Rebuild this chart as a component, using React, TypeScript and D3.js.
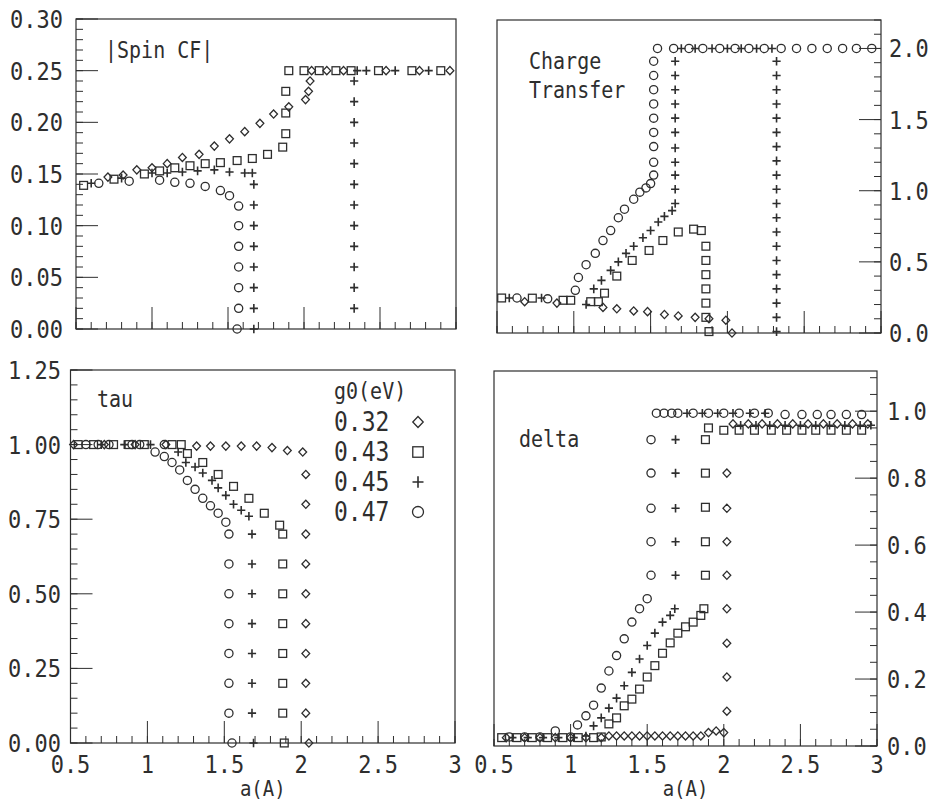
import React from 'react';
import * as d3 from 'd3';

type Pt = [number, number];

// x axis shared by all four panels
const xTickLabels = ['0.5', '1', '1.5', '2', '2.5', '3'];

// ---- |Spin CF| (top left)
const spinYTicks = ['0.00', '0.05', '0.10', '0.15', '0.20', '0.25', '0.30'];
const spin032: Pt[] = [
  [0.71, 0.147], [0.81, 0.149], [0.90, 0.154], [1.00, 0.156], [1.10, 0.160], [1.20, 0.166],
  [1.31, 0.169], [1.41, 0.177], [1.51, 0.184], [1.61, 0.191], [1.71, 0.199], [1.80, 0.208],
  [1.90, 0.215], [2.01, 0.222], [2.03, 0.230], [2.04, 0.240], [2.05, 0.25], [2.15, 0.25],
  [2.26, 0.25], [2.54, 0.25], [2.76, 0.25], [2.96, 0.25],
];
const spin043: Pt[] = [
  [0.55, 0.139], [0.75, 0.145], [0.95, 0.150], [1.05, 0.153], [1.15, 0.156], [1.25, 0.158],
  [1.35, 0.160], [1.45, 0.161], [1.56, 0.163], [1.66, 0.165], [1.76, 0.169], [1.86, 0.176],
  [1.88, 0.189], [1.88, 0.209], [1.88, 0.230], [1.90, 0.25], [2.00, 0.25], [2.10, 0.25],
  [2.21, 0.25], [2.31, 0.25], [2.49, 0.25], [2.71, 0.25], [2.90, 0.25],
];
const spin045: Pt[] = [
  [0.60, 0.141], [0.80, 0.146], [1.00, 0.151], [1.10, 0.151], [1.20, 0.152], [1.30, 0.153],
  [1.41, 0.154], [1.51, 0.152], [1.61, 0.151], [1.66, 0.151],
  [1.67, 0.14], [1.67, 0.12], [1.67, 0.10], [1.67, 0.08], [1.67, 0.06], [1.67, 0.04], [1.67, 0.02], [1.67, 0.0],
  [2.33, 0.02], [2.33, 0.04], [2.33, 0.06], [2.33, 0.08], [2.33, 0.10], [2.33, 0.12],
  [2.33, 0.14], [2.33, 0.16], [2.33, 0.18], [2.33, 0.20], [2.33, 0.22], [2.33, 0.24],
  [2.35, 0.25], [2.41, 0.25], [2.60, 0.25], [2.82, 0.25],
];
const spin047: Pt[] = [
  [0.65, 0.141], [0.85, 0.143], [1.05, 0.144], [1.15, 0.142], [1.25, 0.141], [1.35, 0.138],
  [1.45, 0.134], [1.51, 0.129], [1.57, 0.119], [1.57, 0.10], [1.57, 0.08], [1.57, 0.06],
  [1.57, 0.04], [1.57, 0.02], [1.56, 0.0],
];

// ---- Charge Transfer (top right)
const chargeYTicks = ['0.0', '0.5', '1.0', '1.5', '2.0'];
const charge032: Pt[] = [
  [0.68, 0.22], [0.89, 0.21], [1.19, 0.18], [1.28, 0.17], [1.39, 0.155], [1.48, 0.15],
  [1.59, 0.13], [1.68, 0.12], [1.79, 0.11], [1.88, 0.10], [1.99, 0.09], [2.03, 0.0],
];
const charge043: Pt[] = [
  [0.53, 0.246], [0.73, 0.245], [0.93, 0.23], [0.98, 0.23], [1.11, 0.22], [1.16, 0.22],
  [1.20, 0.28], [1.28, 0.40], [1.38, 0.51], [1.49, 0.58], [1.58, 0.65], [1.68, 0.71],
  [1.78, 0.73], [1.83, 0.72], [1.86, 0.61], [1.86, 0.51], [1.86, 0.41], [1.86, 0.31],
  [1.86, 0.21], [1.86, 0.11], [1.88, 0.01],
];
const charge045: Pt[] = [
  [0.58, 0.246], [0.79, 0.246], [1.08, 0.20], [1.13, 0.31], [1.18, 0.37], [1.24, 0.44],
  [1.29, 0.50], [1.34, 0.56], [1.39, 0.61], [1.45, 0.67], [1.50, 0.72], [1.55, 0.78],
  [1.59, 0.82], [1.64, 0.86], [1.66, 0.91], [1.66, 1.01], [1.66, 1.11], [1.66, 1.20],
  [1.66, 1.30], [1.66, 1.41], [1.66, 1.51], [1.66, 1.61], [1.66, 1.71], [1.66, 1.81],
  [1.66, 1.91], [1.70, 2.0], [1.79, 2.0], [1.90, 2.0], [2.00, 2.0], [2.09, 2.0], [2.19, 2.0],
  [2.29, 2.0], [2.32, 1.91], [2.32, 1.81], [2.32, 1.71], [2.32, 1.61], [2.32, 1.51],
  [2.32, 1.41], [2.32, 1.31], [2.32, 1.21], [2.32, 1.11], [2.32, 1.01], [2.32, 0.91],
  [2.32, 0.81], [2.32, 0.71], [2.32, 0.61], [2.32, 0.51], [2.32, 0.41], [2.32, 0.31],
  [2.32, 0.21], [2.32, 0.11], [2.32, 0.01],
];
const charge047: Pt[] = [
  [0.63, 0.246], [0.83, 0.24], [1.01, 0.30], [1.03, 0.39], [1.08, 0.48], [1.14, 0.56],
  [1.19, 0.65], [1.24, 0.72], [1.29, 0.81], [1.33, 0.87], [1.39, 0.94], [1.43, 0.99],
  [1.47, 1.02], [1.50, 1.05], [1.52, 1.11], [1.52, 1.20], [1.52, 1.31], [1.52, 1.41],
  [1.52, 1.51], [1.52, 1.61], [1.52, 1.71], [1.52, 1.81], [1.52, 1.91], [1.545, 2.0],
  [1.65, 2.0], [1.75, 2.0], [1.84, 2.0], [1.95, 2.0], [2.05, 2.0], [2.14, 2.0], [2.24, 2.0],
  [2.35, 2.0], [2.45, 2.0], [2.55, 2.0], [2.65, 2.0], [2.75, 2.0], [2.84, 2.0], [2.94, 2.0],
];

// ---- tau (bottom left)
const tauYTicks = ['0.00', '0.25', '0.50', '0.75', '1.00', '1.25'];
const tau032: Pt[] = [
  [0.52, 1.0], [0.72, 1.0], [0.92, 1.0], [1.12, 1.0], [1.32, 0.995], [1.41, 0.995],
  [1.51, 0.995], [1.61, 0.995], [1.71, 0.995], [1.81, 0.99], [1.91, 0.98], [2.01, 0.975],
  [2.03, 0.90], [2.03, 0.80], [2.03, 0.70], [2.03, 0.60], [2.03, 0.50], [2.03, 0.40],
  [2.03, 0.30], [2.03, 0.20], [2.03, 0.10], [2.05, 0.0],
];
const tau043: Pt[] = [
  [0.55, 1.0], [0.65, 1.0], [0.78, 1.0], [0.88, 1.0], [0.98, 1.0], [1.16, 1.0], [1.22, 1.0],
  [1.26, 0.97], [1.36, 0.94], [1.46, 0.90], [1.56, 0.86], [1.66, 0.82], [1.76, 0.77],
  [1.86, 0.73], [1.88, 0.70], [1.88, 0.60], [1.88, 0.50], [1.88, 0.40], [1.88, 0.30],
  [1.88, 0.20], [1.88, 0.10], [1.89, 0.0],
];
const tau045: Pt[] = [
  [0.70, 1.0], [0.85, 1.0], [1.02, 1.0], [1.20, 0.975], [1.25, 0.94], [1.31, 0.925],
  [1.36, 0.905], [1.42, 0.88], [1.46, 0.855], [1.51, 0.83], [1.56, 0.80], [1.61, 0.78],
  [1.66, 0.76], [1.68, 0.70], [1.68, 0.60], [1.68, 0.50], [1.68, 0.40], [1.68, 0.30],
  [1.68, 0.20], [1.68, 0.10], [1.69, 0.0],
];
const tau047: Pt[] = [
  [0.60, 1.0], [0.68, 1.0], [0.75, 1.0], [0.90, 1.0], [0.95, 1.0], [1.11, 1.0],
  [1.05, 0.975], [1.11, 0.96], [1.16, 0.94], [1.21, 0.915], [1.26, 0.88], [1.31, 0.85],
  [1.36, 0.82], [1.41, 0.795], [1.46, 0.77], [1.51, 0.74], [1.53, 0.70], [1.53, 0.60],
  [1.53, 0.50], [1.53, 0.40], [1.53, 0.30], [1.53, 0.20], [1.53, 0.10], [1.55, 0.0],
];

// ---- delta (bottom right)
const deltaYTicks = ['0.0', '0.2', '0.4', '0.6', '0.8', '1.0'];
const delta032: Pt[] = [
  [0.58, 0.025], [0.70, 0.025], [0.80, 0.025], [0.90, 0.025], [1.00, 0.025], [1.10, 0.025],
  [1.20, 0.025], [1.25, 0.03], [1.30, 0.03], [1.35, 0.03], [1.40, 0.03], [1.45, 0.03],
  [1.50, 0.03], [1.55, 0.03], [1.60, 0.03], [1.65, 0.03], [1.70, 0.03], [1.75, 0.03],
  [1.80, 0.03], [1.85, 0.03], [1.90, 0.04], [1.95, 0.045], [2.00, 0.04],
  [2.02, 0.104], [2.02, 0.206], [2.02, 0.307], [2.02, 0.41], [2.02, 0.51], [2.02, 0.61],
  [2.02, 0.71], [2.02, 0.815], [2.06, 0.962], [2.16, 0.962], [2.25, 0.962], [2.35, 0.962],
  [2.45, 0.962], [2.55, 0.962], [2.65, 0.962], [2.74, 0.962], [2.84, 0.962], [2.94, 0.962],
];
const delta043: Pt[] = [
  [0.55, 0.025], [0.65, 0.025], [0.75, 0.025], [0.85, 0.025], [0.95, 0.025], [1.05, 0.025],
  [1.15, 0.025], [1.20, 0.027], [1.25, 0.066], [1.30, 0.084], [1.35, 0.12], [1.40, 0.14],
  [1.45, 0.17], [1.50, 0.206], [1.55, 0.24], [1.60, 0.277], [1.65, 0.308], [1.70, 0.337],
  [1.75, 0.356], [1.80, 0.37], [1.85, 0.39], [1.87, 0.41], [1.88, 0.51], [1.88, 0.61],
  [1.88, 0.713], [1.88, 0.815], [1.88, 0.915], [1.90, 0.95], [2.00, 0.943], [2.10, 0.943],
  [2.20, 0.943], [2.31, 0.943], [2.41, 0.943], [2.51, 0.943], [2.60, 0.943], [2.70, 0.943],
  [2.80, 0.943], [2.90, 0.943],
];
const delta045: Pt[] = [
  [0.62, 0.025], [0.72, 0.025], [0.82, 0.025], [0.92, 0.025], [1.02, 0.025], [1.10, 0.03],
  [1.15, 0.06], [1.20, 0.084], [1.25, 0.113], [1.30, 0.143], [1.35, 0.18], [1.40, 0.22],
  [1.45, 0.26], [1.50, 0.30], [1.55, 0.337], [1.60, 0.37], [1.65, 0.39], [1.68, 0.41],
  [1.685, 0.51], [1.685, 0.61], [1.685, 0.71], [1.685, 0.815], [1.685, 0.915],
  [1.76, 0.994], [1.86, 0.994], [1.96, 0.994], [2.06, 0.994], [2.17, 0.994], [2.27, 0.994],
  [2.11, 0.958], [2.21, 0.958], [2.30, 0.958], [2.40, 0.958], [2.50, 0.958], [2.60, 0.958],
  [2.69, 0.958], [2.79, 0.958], [2.89, 0.958], [2.96, 0.958],
];
const delta047: Pt[] = [
  [0.60, 0.027], [0.70, 0.027], [0.80, 0.027], [0.90, 0.045], [1.00, 0.027], [1.045, 0.063],
  [1.10, 0.09], [1.15, 0.122], [1.20, 0.173], [1.25, 0.224], [1.30, 0.27], [1.35, 0.32],
  [1.40, 0.37], [1.45, 0.41], [1.50, 0.44], [1.525, 0.51], [1.525, 0.61], [1.525, 0.71],
  [1.525, 0.815], [1.525, 0.915], [1.56, 0.994], [1.61, 0.994], [1.66, 0.994], [1.70, 0.994],
  [1.80, 0.994], [1.90, 0.994], [2.00, 0.994], [2.10, 0.994], [2.20, 0.994], [2.29, 0.994],
  [2.40, 0.99], [2.51, 0.99], [2.61, 0.99], [2.70, 0.99], [2.80, 0.99], [2.90, 0.99],
];

const legendTitle = 'g0(eV)';
const legendLabels = ['0.32', '0.43', '0.45', '0.47'];
type Kind = 'diamond' | 'square' | 'plus' | 'circle';
const kinds: Kind[] = ['diamond', 'square', 'plus', 'circle'];

const INK = '#2e2e2e';
const FONT = '"DejaVu Sans Mono", "Liberation Mono", monospace';

function Marker({ kind, cx, cy, s }: { kind: Kind; cx: number; cy: number; s: number }) {
  const common = { fill: 'none', stroke: INK, strokeWidth: 1.3 };
  if (kind === 'circle') return <circle cx={cx} cy={cy} r={s} {...common} />;
  if (kind === 'square') return <rect x={cx - s * 0.95} y={cy - s * 0.95} width={s * 1.9} height={s * 1.9} {...common} />;
  if (kind === 'diamond')
    return <path d={`M${cx},${cy - s}L${cx + s * 0.95},${cy}L${cx},${cy + s}L${cx - s * 0.95},${cy}Z`} {...common} />;
  return <path d={`M${cx - s},${cy}H${cx + s}M${cx},${cy - s * 1.05}V${cy + s * 1.05}`} {...common} strokeWidth={1.6} />;
}

// tall, thin plotter-style text
function Label({ x, y, size, anchor = 'start', children }: { x: number; y: number; size: number; anchor?: string; children: React.ReactNode }) {
  return (
    <text
      transform={`translate(${x},${y}) scale(1,1.12)`}
      textAnchor={anchor}
      fontSize={size}
      fontFamily={FONT}
      fill={INK}
    >
      {children}
    </text>
  );
}

type PanelCfg = {
  xr: [number, number];
  yr: [number, number];
  yTicks: string[];
  yMax: number;
  minorStep: number;
  side: 'left' | 'right';
  labelX: number;
  xLabels: boolean;
  series: Pt[][];
  title: { text: string; x: number; y: number }[];
};

const panels: PanelCfg[] = [
  {
    xr: [76, 456], yr: [329, 19], yTicks: spinYTicks, yMax: 0.30, minorStep: 0.01, side: 'left', labelX: 63,
    xLabels: false, series: [spin032, spin043, spin045, spin047],
    title: [{ text: '|Spin CF|', x: 105, y: 58 }],
  },
  {
    xr: [497, 881], yr: [333, 20], yTicks: chargeYTicks, yMax: 2.2, minorStep: 0.1, side: 'right', labelX: 889,
    xLabels: false, series: [charge032, charge043, charge045, charge047],
    title: [{ text: 'Charge', x: 529, y: 69 }, { text: 'Transfer', x: 529, y: 98 }],
  },
  {
    xr: [70.5, 455], yr: [743, 370], yTicks: tauYTicks, yMax: 1.25, minorStep: 0.05, side: 'left', labelX: 61,
    xLabels: true, series: [tau032, tau043, tau045, tau047],
    title: [{ text: 'tau', x: 97, y: 407 }],
  },
  {
    xr: [494, 877], yr: [746, 371], yTicks: deltaYTicks, yMax: 1.12, minorStep: 0.05, side: 'right', labelX: 887,
    xLabels: true, series: [delta032, delta043, delta045, delta047],
    title: [{ text: 'delta', x: 519, y: 447 }],
  },
];

function Panel({ cfg }: { cfg: PanelCfg }) {
  const x = d3.scaleLinear().domain([0.5, 3]).range(cfg.xr);
  const y = d3.scaleLinear().domain([0, cfg.yMax]).range(cfg.yr);
  const [xl, xr] = cfg.xr;
  const [yb, yt] = cfg.yr;
  const MAJ = 22;
  const MIN = 7;

  const xMinor = d3.range(5, 31).map((i) => i / 10);
  const nMinor = Math.round(cfg.yMax / cfg.minorStep);
  const yMinor = d3.range(0, nMinor + 1).map((i) => i * cfg.minorStep);
  const yMajor = cfg.yTicks.map(Number);

  const axX = cfg.side === 'left' ? xl : xr;
  const dir = cfg.side === 'left' ? 1 : -1;

  return (
    <g>
      <rect x={xl} y={yt} width={xr - xl} height={yb - yt} fill="none" stroke={INK} strokeWidth={1.2} />
      {xMinor.map((v, i) => (
        <line key={'xm' + i} x1={x(v)} x2={x(v)} y1={yb} y2={yb - MIN} stroke={INK} strokeWidth={1} />
      ))}
      {xTickLabels.map((t, i) => (
        <line key={'xM' + i} x1={x(+t)} x2={x(+t)} y1={yb} y2={yb - MAJ} stroke={INK} strokeWidth={1} />
      ))}
      {yMinor.map((v, i) => (
        <line key={'ym' + i} x1={axX} x2={axX + dir * MIN} y1={y(v)} y2={y(v)} stroke={INK} strokeWidth={1} />
      ))}
      {yMajor.map((v, i) => (
        <line key={'yM' + i} x1={axX} x2={axX + dir * MAJ} y1={y(v)} y2={y(v)} stroke={INK} strokeWidth={1} />
      ))}
      {cfg.yTicks.map((t, i) => (
        <Label key={'yl' + i} x={cfg.labelX} y={y(+t) + 9} size={22} anchor={cfg.side === 'left' ? 'end' : 'start'}>
          {t}
        </Label>
      ))}
      {cfg.xLabels &&
        xTickLabels.map((t, i) => (
          <Label key={'xl' + i} x={x(+t)} y={773} size={22} anchor="middle">
            {t}
          </Label>
        ))}
      {cfg.xLabels && (
        <Label x={(xl + xr) / 2} y={796} size={19} anchor="middle">
          a(A)
        </Label>
      )}
      {cfg.title.map((t, i) => (
        <Label key={'t' + i} x={t.x} y={t.y} size={20}>
          {t.text}
        </Label>
      ))}
      {cfg.series.map((pts, si) =>
        pts.map((p, pi) => <Marker key={si + '-' + pi} kind={kinds[si]} cx={x(p[0])} cy={y(p[1])} s={4.1} />)
      )}
    </g>
  );
}

export default function App() {
  return (
    <svg
      width={929}
      height={804}
      viewBox="0 0 929 804"
      style={{ position: 'absolute', left: 0, top: 0, background: '#fff' }}
    >
      <rect width={929} height={804} fill="#fff" />
      {panels.map((p, i) => (
        <Panel key={i} cfg={p} />
      ))}
      <Label x={334} y={399} size={20}>
        {legendTitle}
      </Label>
      {legendLabels.map((l, i) => (
        <g key={l}>
          <Label x={334} y={431 + i * 30} size={23}>
            {l}
          </Label>
          <Marker kind={kinds[i]} cx={418} cy={422 + i * 30} s={5.5} />
        </g>
      ))}
    </svg>
  );
}
